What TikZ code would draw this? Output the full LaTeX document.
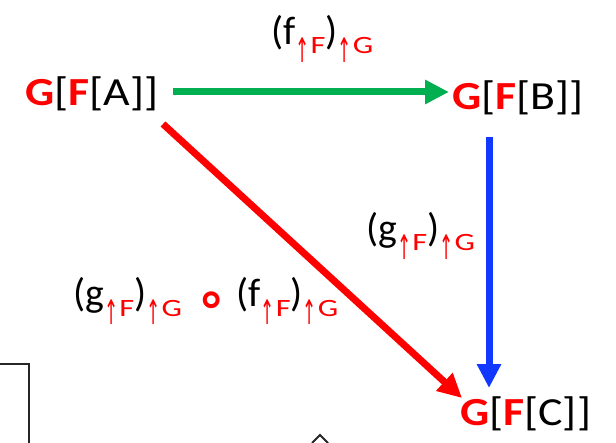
\documentclass[tikz,border=0pt]{standalone}
\usepackage{fontspec}
\setmainfont{Carlito}
\newfontfamily\symf{DejaVu Sans}
\usetikzlibrary{arrows.meta}
\definecolor{myred}{RGB}{255,0,0}
\definecolor{mygreen}{RGB}{0,176,80}
\definecolor{myblue}{RGB}{16,56,255}
\newcommand\Rb[1]{{\color{myred}\bfseries #1}}
\newcommand\wide[1]{\scalebox{1.15}[1]{#1}}
\newcommand\upar{\raisebox{-8.5bp}{\scalebox{0.5}[1]{\fontsize{34}{34}\symf ↑}}}
\newcommand\subx[1]{\raisebox{-9bp}{\fontsize{25}{25}\selectfont\color{myred}\upar\kern1bp\scalebox{1.3}[1]{#1}}}
\newcommand\ring{\hspace{0.35em}\raisebox{-9bp}{\fontsize{52}{52}\symf\bfseries\color{myred}∘}\hspace{0.2em}}
\begin{document}
\begin{tikzpicture}[x=1bp,y=-1bp,
  obj/.style={anchor=base west,inner sep=0pt,font=\fontsize{40}{44}\selectfont},
  lbl/.style={anchor=base west,inner sep=0pt,font=\fontsize{40}{44}\selectfont},
  arr/.style={line width=7bp,-{Triangle[length=24bp,width=23bp]}},
  frame/.style={draw=black!85,line width=2.5bp}]
\useasboundingbox (0,0) rectangle (616,443);
\node[obj] (A) at (25,106) {\wide{\Rb{G}[\Rb{F}[A]]}};
\node[obj] (B) at (452,110) {\wide{\Rb{G}[\Rb{F}[B]]}};
\node[obj] (C) at (460,425) {\wide{\Rb{G}[\Rb{F}[C]]}};
\coordinate (gs) at (173,92);
\coordinate (ge) at (449,92);
\coordinate (bs) at (489,137);
\coordinate (be) at (489,388);
\coordinate (rs) at (163,124);
\coordinate (re) at (462,398);
\draw[arr,mygreen] (gs) -- (ge);
\draw[arr,myblue] (bs) -- (be);
\draw[arr,myred] (rs) -- (re);
\node[lbl] (l1) at (271,45) {(f\subx{F})\subx{G}};
\node[lbl] (l2) at (366,242) {(g\subx{F})\subx{G}};
\node[lbl] (l3) at (73,307) {(g\subx{F})\subx{G}\ring(f\subx{F})\subx{G}};
\coordinate (f1) at (0,364);
\coordinate (f2) at (29,364);
\coordinate (f3) at (29,443);
\draw[frame] (f1) -- (f2) -- (f3);
\coordinate (c1) at (312,443);
\coordinate (c2) at (320,435);
\coordinate (c3) at (328,443);
\draw[frame,line width=2bp] (c1) -- (c2) -- (c3);
\end{tikzpicture}
\end{document}
